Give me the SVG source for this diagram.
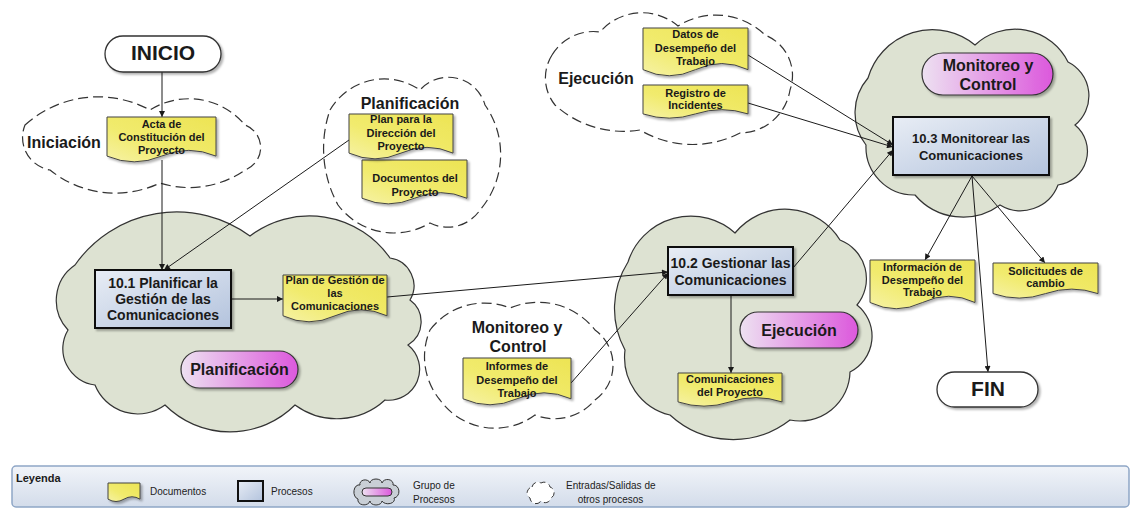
<svg xmlns="http://www.w3.org/2000/svg" width="1131" height="509" viewBox="0 0 1131 509">
  <defs>
    <linearGradient id="gDoc" x1="1" y1="0" x2="0" y2="1">
      <stop offset="0" stop-color="#ede454"/>
      <stop offset="0.6" stop-color="#f1eb6e"/>
      <stop offset="1" stop-color="#f6f2a6"/>
    </linearGradient>
    <linearGradient id="gProc" x1="0" y1="0" x2="1" y2="1">
      <stop offset="0" stop-color="#e8edf5"/>
      <stop offset="1" stop-color="#b3c3dd"/>
    </linearGradient>
    <linearGradient id="gPill" x1="0" y1="0" x2="1" y2="0">
      <stop offset="0" stop-color="#ede1f1"/>
      <stop offset="1" stop-color="#dc58dc"/>
    </linearGradient>
    <linearGradient id="gBar" x1="0" y1="0" x2="0" y2="1">
      <stop offset="0" stop-color="#f1f4f9"/>
      <stop offset="1" stop-color="#d3dcea"/>
    </linearGradient>
    <filter id="sh" x="-10%" y="-10%" width="130%" height="140%">
      <feDropShadow dx="2" dy="2" stdDeviation="1.2" flood-color="#000" flood-opacity="0.3"/>
    </filter>
    <marker id="arr" viewBox="0 0 10 10" refX="10" refY="5" markerWidth="8" markerHeight="6" markerUnits="userSpaceOnUse" orient="auto">
      <path d="M0,0 L10,5 L0,10 Z" fill="#1a1a1a"/>
    </marker>
    <style>
      .doc { fill: url(#gDoc); stroke: #444; stroke-width: 1; filter: url(#sh); }
      .proc { fill: url(#gProc); stroke: #111; stroke-width: 2; filter: url(#sh); }
      .pill { fill: url(#gPill); stroke: #333; stroke-width: 1.2; filter: url(#sh); }
      .term { fill: #fff; stroke: #333; stroke-width: 1.3; filter: url(#sh); }
      .grp { fill: #dde2d2; stroke: #333; stroke-width: 1.2; }
      .io { fill: #fff; stroke: #333; stroke-width: 1.2; stroke-dasharray: 10 5; }
      .edge { fill: none; stroke: #1a1a1a; stroke-width: 1; marker-end: url(#arr); }
      text { font-family: "Liberation Sans", Arial, sans-serif; font-weight: bold; fill: #1a1a1a; text-anchor: middle; }
      .dt { font-size: 11px; }
      .pt { font-size: 14px; }
      .pt3 { font-size: 13px; }
      .lbl { font-size: 16px; }
      .big { font-size: 21px; }
      .lg { font-size: 10px; font-weight: normal; text-anchor: start; fill: #222; }
    </style>
  </defs>

  <rect width="1131" height="509" fill="#fff"/>

  <!-- process group clouds -->
  <g id="grp-planificacion">
    <path class="grp" d="M75,265 A124,124 0 0 1 250,236 A98,98 0 0 1 390,258 A28,28 0 0 1 410,300 A27,27 0 0 1 408,345 A31,31 0 0 1 385,400 A71,71 0 0 1 295,405 A92,92 0 0 1 165,405 A46,46 0 0 1 95,385 A36.5,36.5 0 0 1 68,330 A43,43 0 0 1 75,265 Z"/>
  </g>
  <g id="grp-ejecucion">
    <path class="grp" d="M628,262 A66,66 0 0 1 735,233 A64.5,64.5 0 0 1 840,240 A41.5,41.5 0 0 1 857,305 A40,40 0 0 1 850,372 A50,50 0 0 1 790,420 A93,93 0 0 1 670,415 A59.5,59.5 0 0 1 625,350 A87,87 0 0 1 628,262 Z"/>
  </g>
  <g id="grp-monitoreo">
    <path class="grp" d="M868,78 A67,67 0 0 1 975,45 A59,59 0 0 1 1068,62 A37.7,37.7 0 0 1 1075,125 A34,34 0 0 1 1058,185 A40,40 0 0 1 1000,205 A63,63 0 0 1 915,195 A48,48 0 0 1 866,145 A53,53 0 0 1 868,78 Z"/>
  </g>

  <!-- inputs / outputs of other processes -->
  <g id="io-iniciacion">
    <path class="io" d="M25,125 A109,109 0 0 1 150,110 A73,73 0 0 1 245,125 A24,24 0 0 1 245,170 A97,97 0 0 1 160,183 A104,104 0 0 1 50,170 A33,33 0 0 1 25,125 Z"/>
    <text class="lbl" x="64" y="148">Iniciación</text>
  </g>
  <g id="io-planificacion">
    <path class="io" d="M330,110 A63,63 0 0 1 420,90 A38,38 0 0 1 485,105 A85.5,85.5 0 0 1 480,210 A39,39 0 0 1 430,223 A70,70 0 0 1 338,205 A118,118 0 0 1 330,110 Z"/>
    <text class="lbl" x="410" y="109">Planificación</text>
  </g>
  <g id="io-ejecucion">
    <path class="io" d="M552,55 A48,48 0 0 1 600,32 A55.5,55.5 0 0 1 678,26 A70.6,70.6 0 0 1 765,35 A43.5,43.5 0 0 1 790,90 A51,51 0 0 1 740,133 A103,103 0 0 1 640,130 A102,102 0 0 1 555,105 A43,43 0 0 1 552,55 Z"/>
    <text class="lbl" x="596" y="84">Ejecución</text>
  </g>
  <g id="io-monitoreo">
    <path class="io" d="M430,330 A68.5,68.5 0 0 1 510,308 A72,72 0 0 1 595,330 A43,43 0 0 1 595,400 A53,53 0 0 1 535,415 A67.6,67.6 0 0 1 440,400 A68,68 0 0 1 430,330 Z"/>
    <text class="lbl" x="517" y="333">Monitoreo y</text>
    <text class="lbl" x="518" y="352">Control</text>
  </g>

  <!-- connectors -->
  <g id="connectors">
    <line class="edge" x1="162" y1="72" x2="162" y2="117"/>
    <line class="edge" x1="162" y1="160" x2="162" y2="270"/>
    <line class="edge" x1="349" y1="140" x2="164" y2="270"/>
    <line class="edge" x1="231" y1="299" x2="283" y2="299"/>
    <line class="edge" x1="387" y1="297" x2="668" y2="272"/>
    <line class="edge" x1="571" y1="383" x2="668" y2="273"/>
    <line class="edge" x1="731" y1="295" x2="731" y2="373"/>
    <line class="edge" x1="793" y1="268" x2="893" y2="150"/>
    <line class="edge" x1="748" y1="55" x2="893" y2="145"/>
    <line class="edge" x1="748" y1="103" x2="893" y2="147"/>
    <line class="edge" x1="972" y1="176" x2="925" y2="260"/>
    <line class="edge" x1="972" y1="176" x2="988" y2="372"/>
    <line class="edge" x1="972" y1="176" x2="1045" y2="263"/>
  </g>

  <!-- terminators -->
  <g id="inicio">
    <rect class="term" x="105" y="36" width="116" height="36" rx="18"/>
    <text class="big" x="163" y="60">INICIO</text>
  </g>
  <g id="fin">
    <rect class="term" x="937" y="372" width="101" height="35" rx="17.5"/>
    <text class="big" x="988" y="396">FIN</text>
  </g>

  <!-- documents -->
  <g id="doc-acta">
    <path class="doc" d="M107,117 H216 V156.1 Q188.75,144.6 161.5,156.1 T107,156.1 Z"/>
    <text class="dt" x="161.5" y="128">Acta de</text>
    <text class="dt" x="161.5" y="141">Constitución del</text>
    <text class="dt" x="161.5" y="154">Proyecto</text>
  </g>
  <g id="doc-documentos">
    <path class="doc" d="M362,160 H467 V198.25 Q440.75,187 414.5,198.25 T362,198.25 Z"/>
    <text class="dt" x="415" y="182">Documentos del</text>
    <text class="dt" x="415" y="196">Proyecto</text>
  </g>
  <g id="doc-plan-direccion">
    <path class="doc" d="M349,114 H453 V153.1 Q427,141.6 401,153.1 T349,153.1 Z"/>
    <text class="dt" x="401" y="123">Plan para la</text>
    <text class="dt" x="401" y="137">Dirección del</text>
    <text class="dt" x="401" y="150">Proyecto</text>
  </g>
  <g id="doc-plan-gestion">
    <path class="doc" d="M283,275 H387 V315.8 Q361,303.8 335,315.8 T283,315.8 Z"/>
    <text class="dt" x="335" y="284">Plan de Gestión de</text>
    <text class="dt" x="335" y="297">las</text>
    <text class="dt" x="335" y="310">Comunicaciones</text>
  </g>
  <g id="doc-informes">
    <path class="doc" d="M463,358 H571 V398.8 Q544,386.8 517,398.8 T463,398.8 Z"/>
    <text class="dt" x="517" y="370">Informes de</text>
    <text class="dt" x="517" y="384">Desempeño del</text>
    <text class="dt" x="517" y="397">Trabajo</text>
  </g>
  <g id="doc-comunicaciones">
    <path class="doc" d="M678,373 H782 V401.9 Q756,393.4 730,401.9 T678,401.9 Z"/>
    <text class="dt" x="730" y="383">Comunicaciones</text>
    <text class="dt" x="730" y="396">del Proyecto</text>
  </g>
  <g id="doc-datos">
    <path class="doc" d="M643,28 H748 V69.65 Q721.75,57.4 695.5,69.65 T643,69.65 Z"/>
    <text class="dt" x="695.5" y="38">Datos de</text>
    <text class="dt" x="695.5" y="52">Desempeño del</text>
    <text class="dt" x="695.5" y="65">Trabajo</text>
  </g>
  <g id="doc-registro">
    <path class="doc" d="M643,85 H748 V113.9 Q721.75,105.4 695.5,113.9 T643,113.9 Z"/>
    <text class="dt" x="695.5" y="97">Registro de</text>
    <text class="dt" x="695.5" y="108.5">Incidentes</text>
  </g>
  <g id="doc-informacion">
    <path class="doc" d="M870,260 H975 V302.5 Q948.75,290 922.5,302.5 T870,302.5 Z"/>
    <text class="dt" x="922.5" y="271">Información de</text>
    <text class="dt" x="922.5" y="284">Desempeño del</text>
    <text class="dt" x="922.5" y="296">Trabajo</text>
  </g>
  <g id="doc-solicitudes">
    <path class="doc" d="M993,263 H1098 V293.6 Q1071.75,284.6 1045.5,293.6 T993,293.6 Z"/>
    <text class="dt" x="1045.5" y="275">Solicitudes de</text>
    <text class="dt" x="1045.5" y="287">cambio</text>
  </g>

  <!-- processes -->
  <g id="proc-10-1">
    <rect class="proc" x="95" y="270" width="136" height="58"/>
    <text class="pt" x="163" y="288">10.1 Planificar la</text>
    <text class="pt" x="163" y="304">Gestión de las</text>
    <text class="pt" x="163" y="320">Comunicaciones</text>
  </g>
  <g id="proc-10-2">
    <rect class="proc" x="668" y="247" width="125" height="48"/>
    <text class="pt" x="730.5" y="268">10.2 Gestionar las</text>
    <text class="pt" x="730.5" y="285">Comunicaciones</text>
  </g>
  <g id="proc-10-3">
    <rect class="proc" x="893" y="117" width="156" height="58"/>
    <text class="pt3" x="971" y="143">10.3 Monitorear las</text>
    <text class="pt3" x="971" y="160">Comunicaciones</text>
  </g>

  <!-- process group labels -->
  <g id="pill-planificacion">
    <rect class="pill" x="181" y="351" width="117" height="37" rx="18.5"/>
    <text class="lbl" x="239.5" y="375">Planificación</text>
  </g>
  <g id="pill-ejecucion">
    <rect class="pill" x="740" y="312" width="118" height="36" rx="18"/>
    <text class="lbl" x="799" y="336">Ejecución</text>
  </g>
  <g id="pill-monitoreo">
    <rect class="pill" x="922" y="53" width="131" height="42" rx="21"/>
    <text class="lbl" x="988" y="71">Monitoreo y</text>
    <text class="lbl" x="988" y="90">Control</text>
  </g>

  <!-- legend -->
  <g id="legend">
    <rect x="12" y="466" width="1117" height="41" rx="4" fill="url(#gBar)" stroke="#8ea6c6" stroke-width="1.5"/>
    <text x="16" y="482" style="font-size:11px;text-anchor:start">Leyenda</text>
    <path class="doc" d="M108,483 H140 V499.15 Q132,494.4 124,499.15 T108,499.15 Z"/>
    <text class="lg" x="150" y="495">Documentos</text>
    <rect x="238" y="481" width="25" height="20" fill="url(#gProc)" stroke="#111" stroke-width="2"/>
    <text class="lg" x="271" y="495">Procesos</text>
    <path d="M360,485 A5,4 0 0 1 370,483 A6,4 0 0 1 382,483 A5,4 0 0 1 393,485 A5,6 0 0 1 394,498 A6,4 0 0 1 382,501 A6,4 0 0 1 370,501 A5,4 0 0 1 358,499 A5,7 0 0 1 360,485 Z" fill="#c9cfd6" stroke="#333" stroke-width="1"/>
    <rect x="362" y="488" width="30" height="8" rx="4" fill="url(#gPill)" stroke="#333" stroke-width="1"/>
    <text class="lg" x="413" y="488.5">Grupo de</text>
    <text class="lg" x="413" y="502.5">Procesos</text>
    <path d="M532,487 A6,6 0 0 1 541,483 A6,6 0 0 1 550,487 A6,6 0 0 1 551,498 A6,6 0 0 1 541,501 A6,6 0 0 1 530,498 A6,6 0 0 1 532,487 Z" fill="#fff" stroke="#333" stroke-width="1" stroke-dasharray="6 4"/>
    <text class="lg" x="566" y="488.5">Entradas/Salidas de</text>
    <text class="lg" x="610.5" y="502.5" style="text-anchor:middle">otros procesos</text>
  </g>
</svg>
